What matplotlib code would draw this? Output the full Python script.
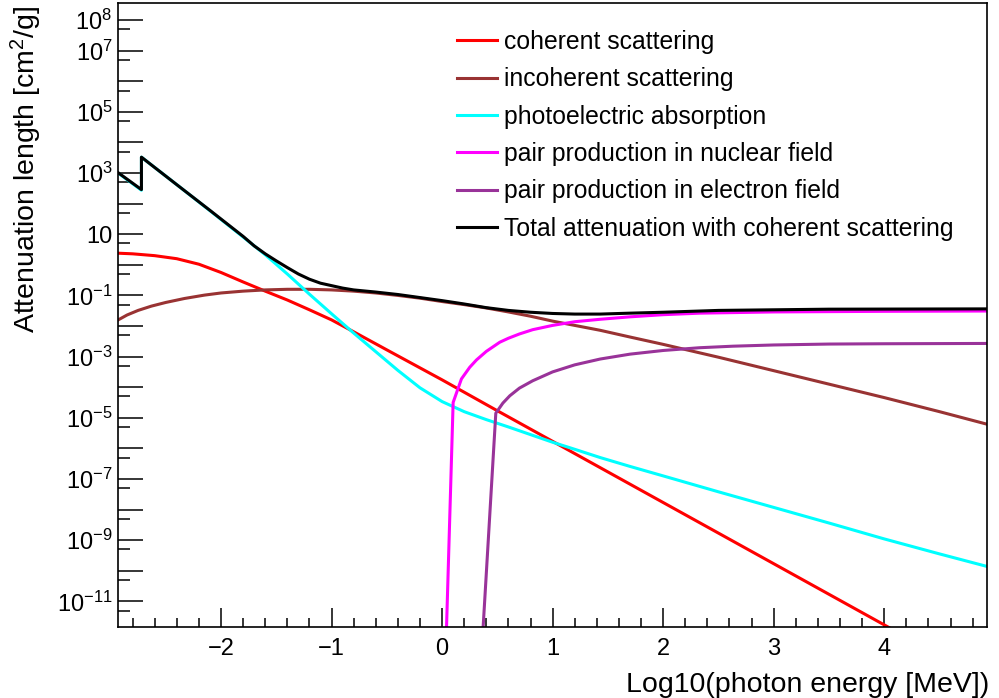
import numpy as np
import matplotlib

matplotlib.use("Agg")

import matplotlib.pyplot as plt
from matplotlib.ticker import FixedLocator, FuncFormatter, MultipleLocator

plt.rcParams["font.family"] = ["Liberation Sans", "DejaVu Sans"]
plt.rcParams["mathtext.fontset"] = "custom"
plt.rcParams["mathtext.rm"] = "Liberation Sans"
plt.rcParams["mathtext.it"] = "Liberation Sans:italic"
plt.rcParams["mathtext.bf"] = "Liberation Sans:bold"

# log10(photon energy [MeV]) and log10(attenuation [cm2/g])
coh_loge = [-2.93, -2.8, -2.6, -2.4, -2.2, -2.0, -1.8, -1.6, -1.4, -1.2, -1.0,
            -0.835, -0.5, 0.0, 0.49, 1.0, 1.43, 2.0, 3.0, 4.0, 4.93]
coh_logmu = [0.38, 0.36, 0.30, 0.20, 0.02, -0.25, -0.56, -0.86, -1.15, -1.47,
             -1.80, -2.12, -2.78, -3.76, -4.75, -5.77, -6.63, -7.77, -9.77,
             -11.77, -13.63]

incoh_loge = [-2.93, -2.85, -2.75, -2.63, -2.5, -2.33, -2.15, -2.0, -1.8, -1.6,
              -1.4, -1.2, -1.0, -0.8, -0.6, -0.4, -0.2, 0.0, 0.2, 0.4, 0.6, 0.8,
              1.0, 1.2, 1.43, 1.7, 2.0, 2.5, 3.0, 3.5, 4.0, 4.5, 4.93]
incoh_logmu = [-1.80, -1.64, -1.49, -1.35, -1.23, -1.10, -0.99, -0.92, -0.86,
               -0.82, -0.80, -0.80, -0.82, -0.86, -0.92, -1.00, -1.09, -1.20,
               -1.30, -1.41, -1.54, -1.68, -1.84, -1.98, -2.14, -2.36, -2.60,
               -3.02, -3.46, -3.90, -4.34, -4.80, -5.21]

photo_loge = [-2.93, -2.72, -2.72, -2.4, -2.1, -1.8, -1.6, -1.4, -1.2, -1.0,
              -0.8, -0.6, -0.4, -0.2, 0.0, 0.2, 0.4, 0.6, 0.8, 1.0, 1.2, 1.43,
              1.7, 2.0, 2.5, 3.0, 3.5, 4.0, 4.5, 4.93]
photo_logmu = [3.00, 2.44, 3.52, 2.62, 1.77, 0.91, 0.33, -0.30, -0.96, -1.60,
               -2.23, -2.84, -3.45, -4.02, -4.47, -4.80, -5.06, -5.30, -5.55,
               -5.80, -6.03, -6.30, -6.59, -6.90, -7.42, -7.93, -8.44, -8.96,
               -9.45, -9.86]

pairn_loge = [0.0, 0.10, 0.175, 0.25, 0.311, 0.4, 0.522, 0.6, 0.7, 0.82, 1.0,
              1.2, 1.43, 1.7, 2.0, 2.33, 3.0, 4.0, 4.93]
pairn_logmu = [-16.8, -4.50, -3.73, -3.35, -3.11, -2.83, -2.53, -2.40, -2.26,
               -2.12, -1.98, -1.86, -1.78, -1.70, -1.63, -1.58, -1.54, -1.52,
               -1.51]

paire_loge = [0.30, 0.486, 0.55, 0.613, 0.7, 0.82, 1.0, 1.2, 1.43, 1.7, 2.0,
              2.33, 2.63, 3.0, 3.5, 4.0, 4.93]
paire_logmu = [-16.2, -4.85, -4.52, -4.28, -4.03, -3.79, -3.50, -3.27, -3.08,
               -2.92, -2.80, -2.71, -2.66, -2.62, -2.59, -2.58, -2.57]

total_loge = [-2.93, -2.72, -2.72, -2.4, -2.1, -1.8, -1.7, -1.6, -1.5, -1.4,
              -1.3, -1.2, -1.1, -1.0, -0.9, -0.8, -0.6, -0.4, -0.2, 0.0, 0.2,
              0.4, 0.6, 0.8, 1.0, 1.2, 1.43, 1.7, 2.0, 2.5, 3.0, 3.5, 4.93]
total_logmu = [3.01, 2.46, 3.52, 2.62, 1.78, 0.93, 0.62, 0.36, 0.13, -0.09,
               -0.30, -0.47, -0.60, -0.68, -0.76, -0.82, -0.89, -0.97, -1.07,
               -1.17, -1.28, -1.40, -1.49, -1.55, -1.59, -1.61, -1.61, -1.58,
               -1.55, -1.49, -1.47, -1.45, -1.44]

series = [
    (coh_loge, coh_logmu, "#ff0000", "coherent scattering"),
    (incoh_loge, incoh_logmu, "#993333", "incoherent scattering"),
    (photo_loge, photo_logmu, "#00ffff", "photoelectric absorption"),
    (pairn_loge, pairn_logmu, "#ff00ff", "pair production in nuclear field"),
    (paire_loge, paire_logmu, "#993399", "pair production in electron field"),
    (total_loge, total_logmu, "#000000", "Total attenuation with coherent scattering"),
]

fig = plt.figure(figsize=(9.99, 6.98), dpi=100)
ax = fig.add_axes([118 / 999, 1 - 627 / 698, 869 / 999, 623.7 / 698])

for loge, logmu, color, label in series:
    ax.plot(loge, 10.0 ** np.asarray(logmu), color=color, lw=2.2, label=label)

ax.set_yscale("log")
ax.set_xlim(-2.932, 4.93)
ax.set_ylim(10 ** -11.84, 10 ** 8.55)

# ROOT-like ticks: long ones at every decade, a short one at 5x10^n
ax.yaxis.set_major_locator(FixedLocator([10.0 ** k for k in range(-11, 9)]))
ax.yaxis.set_minor_locator(FixedLocator([5 * 10.0 ** k for k in range(-12, 8)]))


def _ylabel(v, _pos):
    k = int(round(np.log10(v)))
    if k == 1:
        return "10"
    if k % 2 == 1 or k == 8:
        return r"$10^{%d}$" % k if k >= 0 else r"$10^{\mathrm{-%d}}$" % -k
    return ""


ax.yaxis.set_major_formatter(FuncFormatter(_ylabel))
ax.yaxis.set_minor_formatter(FuncFormatter(lambda v, p: ""))
ax.xaxis.set_major_locator(MultipleLocator(1))
ax.xaxis.set_minor_locator(MultipleLocator(0.2))

ax.tick_params(axis="y", which="major", direction="in", length=18, width=1.1,
               labelsize=17, pad=4)
ax.tick_params(axis="y", which="minor", direction="in", length=8.6, width=1.1)
ax.tick_params(axis="x", which="major", direction="in", length=13.7, width=1.1,
               labelsize=17, pad=8)
ax.tick_params(axis="x", which="minor", direction="in", length=6.7, width=1.1)
for spine in ax.spines.values():
    spine.set_linewidth(1.2)

ax.set_xlabel("Log10(photon energy [MeV])", fontsize=20.5, loc="right")
ax.xaxis.set_label_coords(1.003, -0.072)
ax.set_ylabel(r"Attenuation length [cm$^{2}$/g]", fontsize=20.5, loc="top")
ax.yaxis.set_label_coords(-0.085, 0.997)

fig.legend(loc="upper left", bbox_to_anchor=(457 / 999, 1 - 30 / 698),
           frameon=False, fontsize=17.8, handlelength=1.6, handletextpad=0.32,
           labelspacing=0.54, borderpad=0, borderaxespad=0)

fig.savefig("out.png", dpi=100)
